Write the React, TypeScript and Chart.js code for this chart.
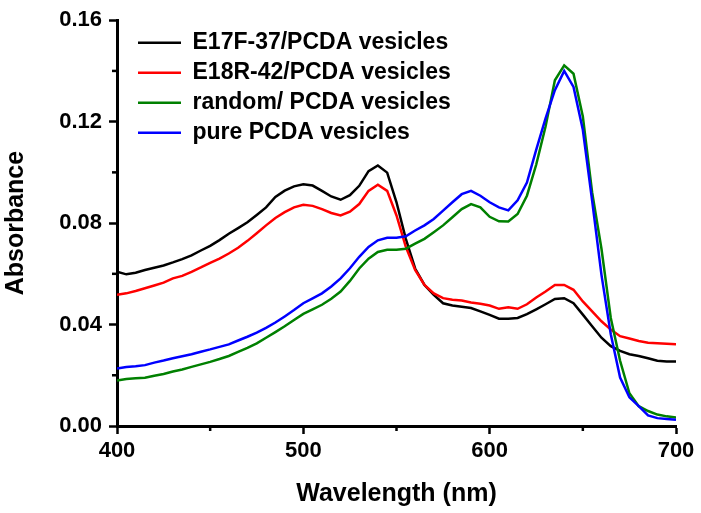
import React, { useEffect, useRef } from 'react';
import { Chart, registerables } from 'chart.js';

Chart.register(...registerables);

// Wavelength (nm)
const wavelengths = [
  400, 405, 410, 415, 420, 425, 430, 435, 440, 445, 450, 455, 460, 465, 470, 475, 480, 485, 490, 495,
  500, 505, 510, 515, 520, 525, 530, 535, 540, 545, 550, 555, 560, 565, 570, 575, 580, 585, 590, 595,
  600, 605, 610, 615, 620, 625, 630, 635, 640, 645, 650, 655, 660, 665, 670, 675, 680, 685, 690, 695,
  700,
];

const e17fVesicles = [
  0.0608, 0.0598, 0.0604, 0.0615, 0.0624, 0.0633, 0.0645, 0.0658, 0.0673, 0.0692, 0.0710, 0.0733, 0.0758, 0.0780, 0.0803, 0.0832, 0.0862, 0.0903, 0.0928, 0.0945,
  0.0953, 0.0948, 0.0927, 0.0905, 0.0892, 0.0910, 0.0947, 0.1005, 0.1027, 0.0999, 0.0882, 0.0738, 0.0621, 0.0556, 0.0517, 0.0484, 0.0475, 0.0470, 0.0465, 0.0452,
  0.0438, 0.0423, 0.0423, 0.0426, 0.0441, 0.0460, 0.0480, 0.0501, 0.0504, 0.0484, 0.0439, 0.0393, 0.0348, 0.0315, 0.0296, 0.0283, 0.0276, 0.0267, 0.0257, 0.0254,
  0.0254,
];

const e18rVesicles = [
  0.0517, 0.0523, 0.0532, 0.0543, 0.0554, 0.0565, 0.0582, 0.0592, 0.0608, 0.0625, 0.0643, 0.0660, 0.0680, 0.0703, 0.0730, 0.0760, 0.0791, 0.0820, 0.0843, 0.0862,
  0.0872, 0.0868, 0.0855, 0.0840, 0.0830, 0.0845, 0.0875, 0.0927, 0.0951, 0.0927, 0.0830, 0.0706, 0.0615, 0.0556, 0.0523, 0.0504, 0.0498, 0.0495, 0.0487, 0.0482,
  0.0475, 0.0462, 0.0468, 0.0462, 0.0480, 0.0507, 0.0530, 0.0556, 0.0556, 0.0537, 0.0491, 0.0452, 0.0413, 0.0380, 0.0354, 0.0345, 0.0335, 0.0328, 0.0326, 0.0324,
  0.0322,
];

const randomVesicles = [
  0.0179, 0.0185, 0.0188, 0.0190, 0.0198, 0.0205, 0.0215, 0.0223, 0.0233, 0.0243, 0.0253, 0.0264, 0.0276, 0.0292, 0.0308, 0.0326, 0.0348, 0.0370, 0.0393, 0.0418,
  0.0442, 0.0460, 0.0478, 0.0502, 0.0530, 0.0572, 0.0621, 0.0660, 0.0686, 0.0695, 0.0695, 0.0699, 0.0719, 0.0738, 0.0764, 0.0791, 0.0823, 0.0855, 0.0875, 0.0862,
  0.0825, 0.0807, 0.0806, 0.0836, 0.0908, 0.1031, 0.1181, 0.1363, 0.1422, 0.1389, 0.1220, 0.0921, 0.0699, 0.0426, 0.0257, 0.0129, 0.0078, 0.0059, 0.0045, 0.0038,
  0.0033,
];

const pureVesicles = [
  0.0227, 0.0233, 0.0236, 0.0240, 0.0250, 0.0258, 0.0267, 0.0275, 0.0283, 0.0293, 0.0302, 0.0312, 0.0322, 0.0337, 0.0352, 0.0368, 0.0387, 0.0408, 0.0432, 0.0457,
  0.0484, 0.0503, 0.0523, 0.0550, 0.0582, 0.0622, 0.0667, 0.0706, 0.0732, 0.0742, 0.0742, 0.0748, 0.0771, 0.0791, 0.0816, 0.0849, 0.0882, 0.0914, 0.0927, 0.0908,
  0.0882, 0.0862, 0.0850, 0.0890, 0.0960, 0.1090, 0.1213, 0.1324, 0.1400, 0.1337, 0.1168, 0.0888, 0.0596, 0.0362, 0.0191, 0.0113, 0.0078, 0.0042, 0.0031, 0.0028,
  0.0025,
];

const seriesNames = [
  'E17F-37/PCDA vesicles',
  'E18R-42/PCDA vesicles',
  'random/ PCDA vesicles',
  'pure PCDA vesicles',
];

const yTickLabels = ['0.00', '0.04', '0.08', '0.12', '0.16'];
const xTickLabels = ['400', '500', '600', '700'];

const FONT = "'Liberation Sans', Arial, Helvetica, sans-serif";

const isMajorY = (v: number) => yTickLabels.includes(Number(v).toFixed(2));
const isMajorX = (v: number) => xTickLabels.includes(String(Math.round(Number(v))));

export default function App() {
  const ref = useRef<HTMLCanvasElement>(null);

  useEffect(() => {
    if (!ref.current) return;

    const toPoints = (vals: number[]) => wavelengths.map((w, i) => ({ x: w, y: vals[i] }));

    const minorTicks = {
      id: 'minorTicks',
      afterDraw(chart: any) {
        const { ctx, chartArea: a } = chart;
        const ys = chart.scales.y;
        const xs = chart.scales.x;
        ctx.save();
        ctx.strokeStyle = '#000';
        ctx.lineWidth = 2.5;
        ys.ticks.forEach((t: any) => {
          if (!isMajorY(t.value)) {
            const p = ys.getPixelForValue(t.value);
            ctx.beginPath();
            ctx.moveTo(a.left - 5, p);
            ctx.lineTo(a.left, p);
            ctx.stroke();
          }
        });
        xs.ticks.forEach((t: any) => {
          if (!isMajorX(t.value)) {
            const p = xs.getPixelForValue(t.value);
            ctx.beginPath();
            ctx.moveTo(p, a.bottom);
            ctx.lineTo(p, a.bottom + 5);
            ctx.stroke();
          }
        });
        ctx.restore();
      },
    };

    const legendPos = {
      id: 'legendPos',
      afterLayout(chart: any) {
        const lg = chart.legend;
        const a = chart.chartArea;
        if (!lg) return;
        lg.left = a.left + 14;
        lg.top = a.top + 4;
        lg.right = a.right;
        lg.bottom = a.bottom;
        lg.width = lg.right - lg.left;
        lg.height = lg.bottom - lg.top;
      },
    };

    const colors = ['#000000', '#ff0000', '#008000', '#0000ff'];
    const values = [e17fVesicles, e18rVesicles, randomVesicles, pureVesicles];

    const chart = new Chart(ref.current, {
      type: 'line',
      data: {
        datasets: values.map((vals, i) => ({
          label: seriesNames[i],
          data: toPoints(vals),
          borderColor: colors[i],
          backgroundColor: colors[i],
          borderWidth: 2.5,
          pointRadius: 0,
          tension: 0,
          fill: false,
          order: 3 - i,
        })),
      },
      options: {
        responsive: false,
        animation: false,
        layout: { padding: { top: 16, right: 25, bottom: 0, left: 0 } },
        color: '#000',
        plugins: {
          tooltip: { enabled: false },
          legend: {
            position: 'chartArea' as any,
            align: 'start',
            labels: {
              usePointStyle: true,
              pointStyle: 'line',
              pointStyleWidth: 43,
              padding: 7,
              color: '#000',
              font: { family: FONT, size: 23, weight: 'bold' },
              sort: (a: any, b: any) => a.datasetIndex - b.datasetIndex,
            },
          },
        },
        scales: {
          x: {
            type: 'linear',
            min: 400,
            max: 700,
            afterFit: (s: any) => { s.height = 87; },
            ticks: {
              stepSize: 50,
              padding: 4,
              color: '#000',
              maxRotation: 0,
              font: { family: FONT, size: 22, weight: 'bold' },
              callback: (v: any) => {
                const s = String(Math.round(Number(v)));
                return xTickLabels.includes(s) ? s : '';
              },
            },
            grid: {
              display: true,
              drawOnChartArea: false,
              drawTicks: true,
              tickLength: 8,
              tickWidth: 2.5,
              tickColor: (c: any) => (isMajorX(c.tick.value) ? '#000' : 'rgba(0,0,0,0)'),
            },
            border: { display: true, color: '#000', width: 3 },
            title: {
              display: true,
              text: 'Wavelength (nm)',
              color: '#000',
              font: { family: FONT, size: 25, weight: 'bold' },
              padding: { top: 0, bottom: 4 },
            },
          },
          y: {
            type: 'linear',
            min: 0,
            max: 0.16,
            afterFit: (s: any) => { s.width = 117; },
            ticks: {
              stepSize: 0.02,
              padding: 7,
              color: '#000',
              font: { family: FONT, size: 22, weight: 'bold' },
              callback: (v: any) => {
                const s = Number(v).toFixed(2);
                return yTickLabels.includes(s) ? s : '';
              },
            },
            grid: {
              display: true,
              drawOnChartArea: false,
              drawTicks: true,
              tickLength: 8,
              tickWidth: 2.5,
              tickColor: (c: any) => (isMajorY(c.tick.value) ? '#000' : 'rgba(0,0,0,0)'),
            },
            border: { display: true, color: '#000', width: 3 },
            title: {
              display: true,
              text: 'Absorbance',
              color: '#000',
              font: { family: FONT, size: 25, weight: 'bold' },
              padding: { top: 1, bottom: 0 },
            },
          },
        },
      },
      plugins: [minorTicks, legendPos],
    } as any);

    return () => chart.destroy();
  }, []);

  return (
    <div style={{ position: 'fixed', left: 0, top: 0, width: 701, height: 513, background: '#fff' }}>
      <canvas ref={ref} width={701} height={513} style={{ display: 'block' }} />
    </div>
  );
}
